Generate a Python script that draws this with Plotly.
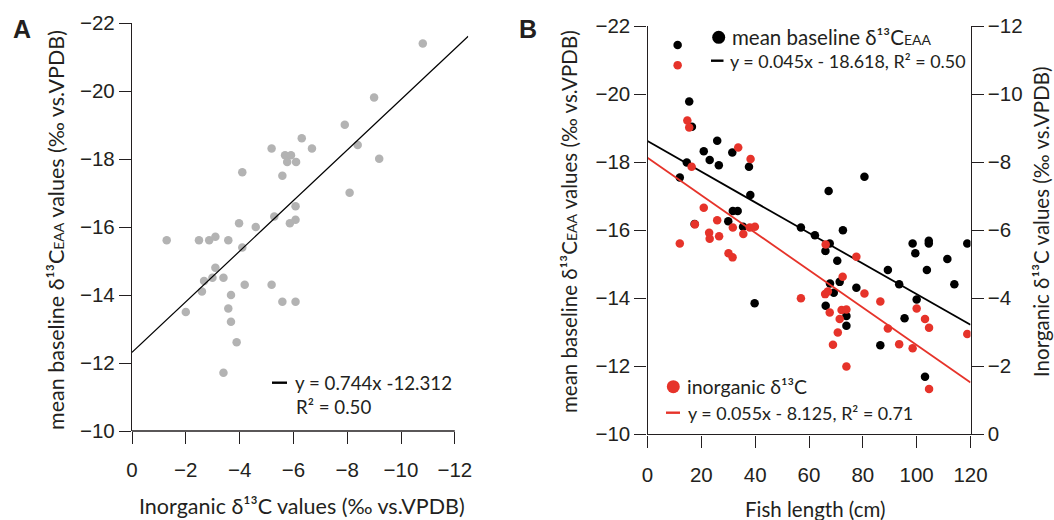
import plotly.graph_objects as go

W, H = 1054, 520

# ---- Panel A: inorganic d13C vs mean baseline d13C(EAA) ----
inorg_a = [-10.81, -9.00, -7.91, -6.31, -6.69, -5.19, -5.69, -5.91, -5.77, -6.10,
           -8.39, -9.19, -4.10, -5.59, -8.09, -6.08, -5.29, -5.87, -6.08, -3.98,
           -4.60, -1.29, -2.49, -2.87, -3.10, -3.58, -4.10, -3.10, -2.99, -2.68,
           -3.40, -2.60, -4.19, -5.19, -3.68, -2.00, -3.58, -5.59, -6.08, -3.68,
           -3.89, -3.40]
base_a = [-21.40, -19.81, -19.01, -18.61, -18.31, -18.31, -18.11, -18.11, -17.91, -17.91,
          -18.41, -18.01, -17.61, -17.51, -17.01, -16.61, -16.31, -16.11, -16.21, -16.11,
          -16.00, -15.61, -15.61, -15.61, -15.71, -15.61, -15.40, -14.80, -14.51, -14.41,
          -14.51, -14.10, -14.30, -14.30, -14.00, -13.50, -13.60, -13.80, -13.80, -13.21,
          -12.61, -11.71]
slope_a, icpt_a = 0.744, -12.312
r2_a = 0.50

# ---- Panel B: fish length vs baseline / inorganic d13C ----
len_base = [11.2, 15.5, 16.5, 25.9, 20.9, 23.1, 26.5, 31.5, 37.7, 14.6,
            12.0, 38.2, 80.6, 67.3, 31.7, 33.5, 30.0, 17.5, 35.5, 57.0,
            62.2, 72.6, 67.7, 66.1, 70.5, 98.5, 104.5, 104.5, 99.5, 118.8,
            111.4, 89.3, 103.8, 93.5, 114.0, 67.8, 71.4, 77.6, 69.2, 66.2,
            39.8, 73.9, 73.9, 95.5, 100.0, 86.5, 103.1]
base_b = [-21.44, -19.78, -19.04, -18.63, -18.32, -18.06, -17.91, -18.28, -17.86, -17.99,
          -17.55, -17.03, -17.57, -17.15, -16.56, -16.56, -16.26, -16.18, -16.10, -16.08,
          -15.85, -16.00, -15.61, -15.39, -15.10, -15.61, -15.69, -15.61, -15.32, -15.61,
          -15.15, -14.83, -14.83, -14.41, -14.41, -14.43, -14.48, -14.31, -14.16, -13.78,
          -13.85, -13.48, -13.19, -13.41, -13.96, -12.62, -11.69]

len_inorg = [11.2, 14.8, 15.5, 16.4, 33.7, 38.3, 20.9, 17.6, 25.9, 22.9,
             23.1, 26.6, 31.7, 35.6, 38.0, 39.9, 12.0, 30.1, 31.6, 57.0,
             66.2, 77.6, 72.5, 66.0, 67.0, 80.6, 86.5, 67.7, 72.1, 73.9,
             71.4, 70.7, 68.9, 73.9, 89.3, 93.5, 98.5, 100.0, 103.1, 104.6,
             118.8, 104.6]
inorg_b = [-10.85, -9.22, -9.02, -7.86, -8.43, -8.09, -6.66, -6.17, -6.29, -5.92,
           -5.75, -5.82, -6.08, -5.89, -6.08, -6.10, -5.61, -5.32, -5.20, -4.00,
           -5.58, -5.22, -4.63, -4.12, -4.20, -4.14, -3.90, -3.58, -3.65, -3.67,
           -3.39, -2.99, -2.63, -1.99, -3.11, -2.65, -2.53, -3.70, -3.39, -3.13,
           -2.95, -1.33]

slope_base, icpt_base, r2_base = 0.045, -18.618, 0.50
slope_inorg, icpt_inorg, r2_inorg = 0.055, -8.125, 0.71

# ticks
ticks_a_x = [0, -2, -4, -6, -8, -10, -12]
ticks_left = [-10, -12, -14, -16, -18, -20, -22]
ticks_b_x = [0, 20, 40, 60, 80, 100, 120]
ticks_right = [0, -2, -4, -6, -8, -10, -12]

GRAY = "#b3b3b3"
RED = "#e6332a"
INK = "#231f20"
TICK_FONT = dict(family="Liberation Sans, Arial, sans-serif", size=20.5, color=INK)
TEXT_FONT = "Lato, Calibri, sans-serif"


def lab(v):
    return str(v).replace("-", "\u2212")


def px(x):
    return x / W


def py(y):
    return 1 - y / H


fig = go.Figure()

# Panel A
fig.add_trace(go.Scatter(x=inorg_a, y=base_a, mode="markers",
                         marker=dict(size=8.5, color=GRAY, line=dict(width=0)),
                         xaxis="x", yaxis="y", showlegend=False))
xa_end = -12.5
fig.add_trace(go.Scatter(x=[0, xa_end], y=[icpt_a, slope_a * xa_end + icpt_a],
                         mode="lines", line=dict(color="black", width=1.2),
                         xaxis="x", yaxis="y", showlegend=False))

# Panel B
fig.add_trace(go.Scatter(x=len_base, y=base_b, mode="markers",
                         marker=dict(size=8.5, color="black", line=dict(width=0)),
                         xaxis="x2", yaxis="y2", showlegend=False))
fig.add_trace(go.Scatter(x=[0, 120], y=[icpt_base, slope_base * 120 + icpt_base],
                         mode="lines", line=dict(color="black", width=1.8),
                         xaxis="x2", yaxis="y2", showlegend=False))
fig.add_trace(go.Scatter(x=len_inorg, y=inorg_b, mode="markers",
                         marker=dict(size=8.5, color=RED, line=dict(width=0)),
                         xaxis="x2", yaxis="y3", showlegend=False))
fig.add_trace(go.Scatter(x=[0, 120], y=[icpt_inorg, slope_inorg * 120 + icpt_inorg],
                         mode="lines", line=dict(color=RED, width=1.8),
                         xaxis="x2", yaxis="y3", showlegend=False))

axis_common = dict(showgrid=False, zeroline=False, ticks="outside", ticklen=12,
                   tickwidth=1.4, tickcolor=INK, tickfont=TICK_FONT,
                   linecolor=INK, linewidth=1.4, automargin=False)

A_dom_x = [px(132), px(132 + 26.9 * 12.5)]
A_dom_y = [py(431), py(23)]
B_dom_x = [px(647.5), px(970.5)]
B_dom_y = [py(434.3), py(26)]

fig.update_layout(
    width=W, height=H, margin=dict(l=0, r=0, t=0, b=0, pad=0),
    paper_bgcolor="white", plot_bgcolor="white",
    xaxis=dict(domain=A_dom_x, range=[0, xa_end], anchor="y", showline=False,
               ticklabelstandoff=8,
               tickvals=ticks_a_x, ticktext=[lab(v) for v in ticks_a_x], **axis_common),
    yaxis=dict(domain=A_dom_y, range=[-10, -22], anchor="x", showline=True,
               tickvals=ticks_left, ticktext=[lab(v) for v in ticks_left], **axis_common),
    xaxis2=dict(domain=B_dom_x, range=[0, 120], anchor="y2", showline=True,
                ticklabelstandoff=10,
                tickvals=ticks_b_x, ticktext=[lab(v) for v in ticks_b_x], **axis_common),
    yaxis2=dict(domain=B_dom_y, range=[-10, -22], anchor="x2", showline=True,
                tickvals=ticks_left, ticktext=[lab(v) for v in ticks_left], **axis_common),
    yaxis3=dict(domain=B_dom_y, range=[0, -12], anchor="x2", overlaying="y2",
                side="right", showline=True,
                tickvals=ticks_right, ticktext=[lab(v) for v in ticks_right], **axis_common),
)

shapes = []
# bottom spine of panel A stops at the last tick (-12)
shapes.append(dict(type="line", xref="x domain", yref="y domain",
                   x0=0, x1=12 / 12.5, y0=0, y1=0,
                   line=dict(color=INK, width=1.4)))

annotations = []


def text(x, y, t, size, anchor="center", angle=0, family=TEXT_FONT, color=INK):
    annotations.append(dict(x=px(x), y=py(y), xref="paper", yref="paper",
                            text=t, showarrow=False, xanchor=anchor, yanchor="middle",
                            borderpad=0,
                            textangle=angle, font=dict(family=family, size=size, color=color)))


def key_line(x0, x1, y, color):
    shapes.append(dict(type="line", xref="paper", yref="paper",
                       x0=px(x0), x1=px(x1), y0=py(y), y1=py(y),
                       line=dict(color=color, width=2.4)))


def key_dot(cx, cy, color, d=13):
    shapes.append(dict(type="circle", xref="paper", yref="paper",
                       xsizemode="pixel", ysizemode="pixel",
                       xanchor=px(cx), yanchor=py(cy),
                       x0=-d / 2, x1=d / 2, y0=-d / 2, y1=d / 2,
                       fillcolor=color, line=dict(width=0)))


# panel letters
text(22, 29, "<b>A</b>", 25, family="Liberation Sans, Arial, sans-serif")
text(528, 29, "<b>B</b>", 25, family="Liberation Sans, Arial, sans-serif")

ylab = ("mean baseline δ¹³C<span style=\"font-size:14px\">EAA</span> "
        "values (‰ vs.VPDB)")
inorg_lab = "Inorganic δ¹³C values (‰ vs.VPDB)"

# axis titles
text(56, 230, ylab, 21.5, angle=-90)
text(302, 506, inorg_lab, 21.5)
text(569, 222, ylab, 20.5, angle=-90)
text(1041, 222, inorg_lab, 20.5, angle=-90)
text(815, 509, "Fish length (cm)", 20.5)

# panel A key
key_line(272, 287, 382.7, "black")
text(294, 382.7, f"y = {slope_a}x {lab(icpt_a).replace(chr(0x2212), '-')}", 18.7, anchor="left")
text(295, 406.7, f"R² = {r2_a:.2f}", 18.7, anchor="left")

# panel B key
key_dot(718.7, 37.3, "black")
text(730.5, 37.3, "mean baseline δ¹³C<span style=\"font-size:14px\">EAA</span>", 20.5, anchor="left")
key_line(711, 723.5, 60.7, "black")
text(729, 60.7, f"y = {slope_base}x - {abs(icpt_base)}, R² = {r2_base:.2f}", 17.9, anchor="left")

key_dot(673.3, 386.7, RED)
text(685.5, 386.7, "inorganic δ¹³C", 19.5, anchor="left")
key_line(666, 680, 412.7, RED)
text(686.5, 412.7, f"y = {slope_inorg}x - {abs(icpt_inorg)}, R² = {r2_inorg:.2f}", 17.9, anchor="left")

fig.update_layout(shapes=shapes, annotations=annotations)

fig.write_html("out.html")
